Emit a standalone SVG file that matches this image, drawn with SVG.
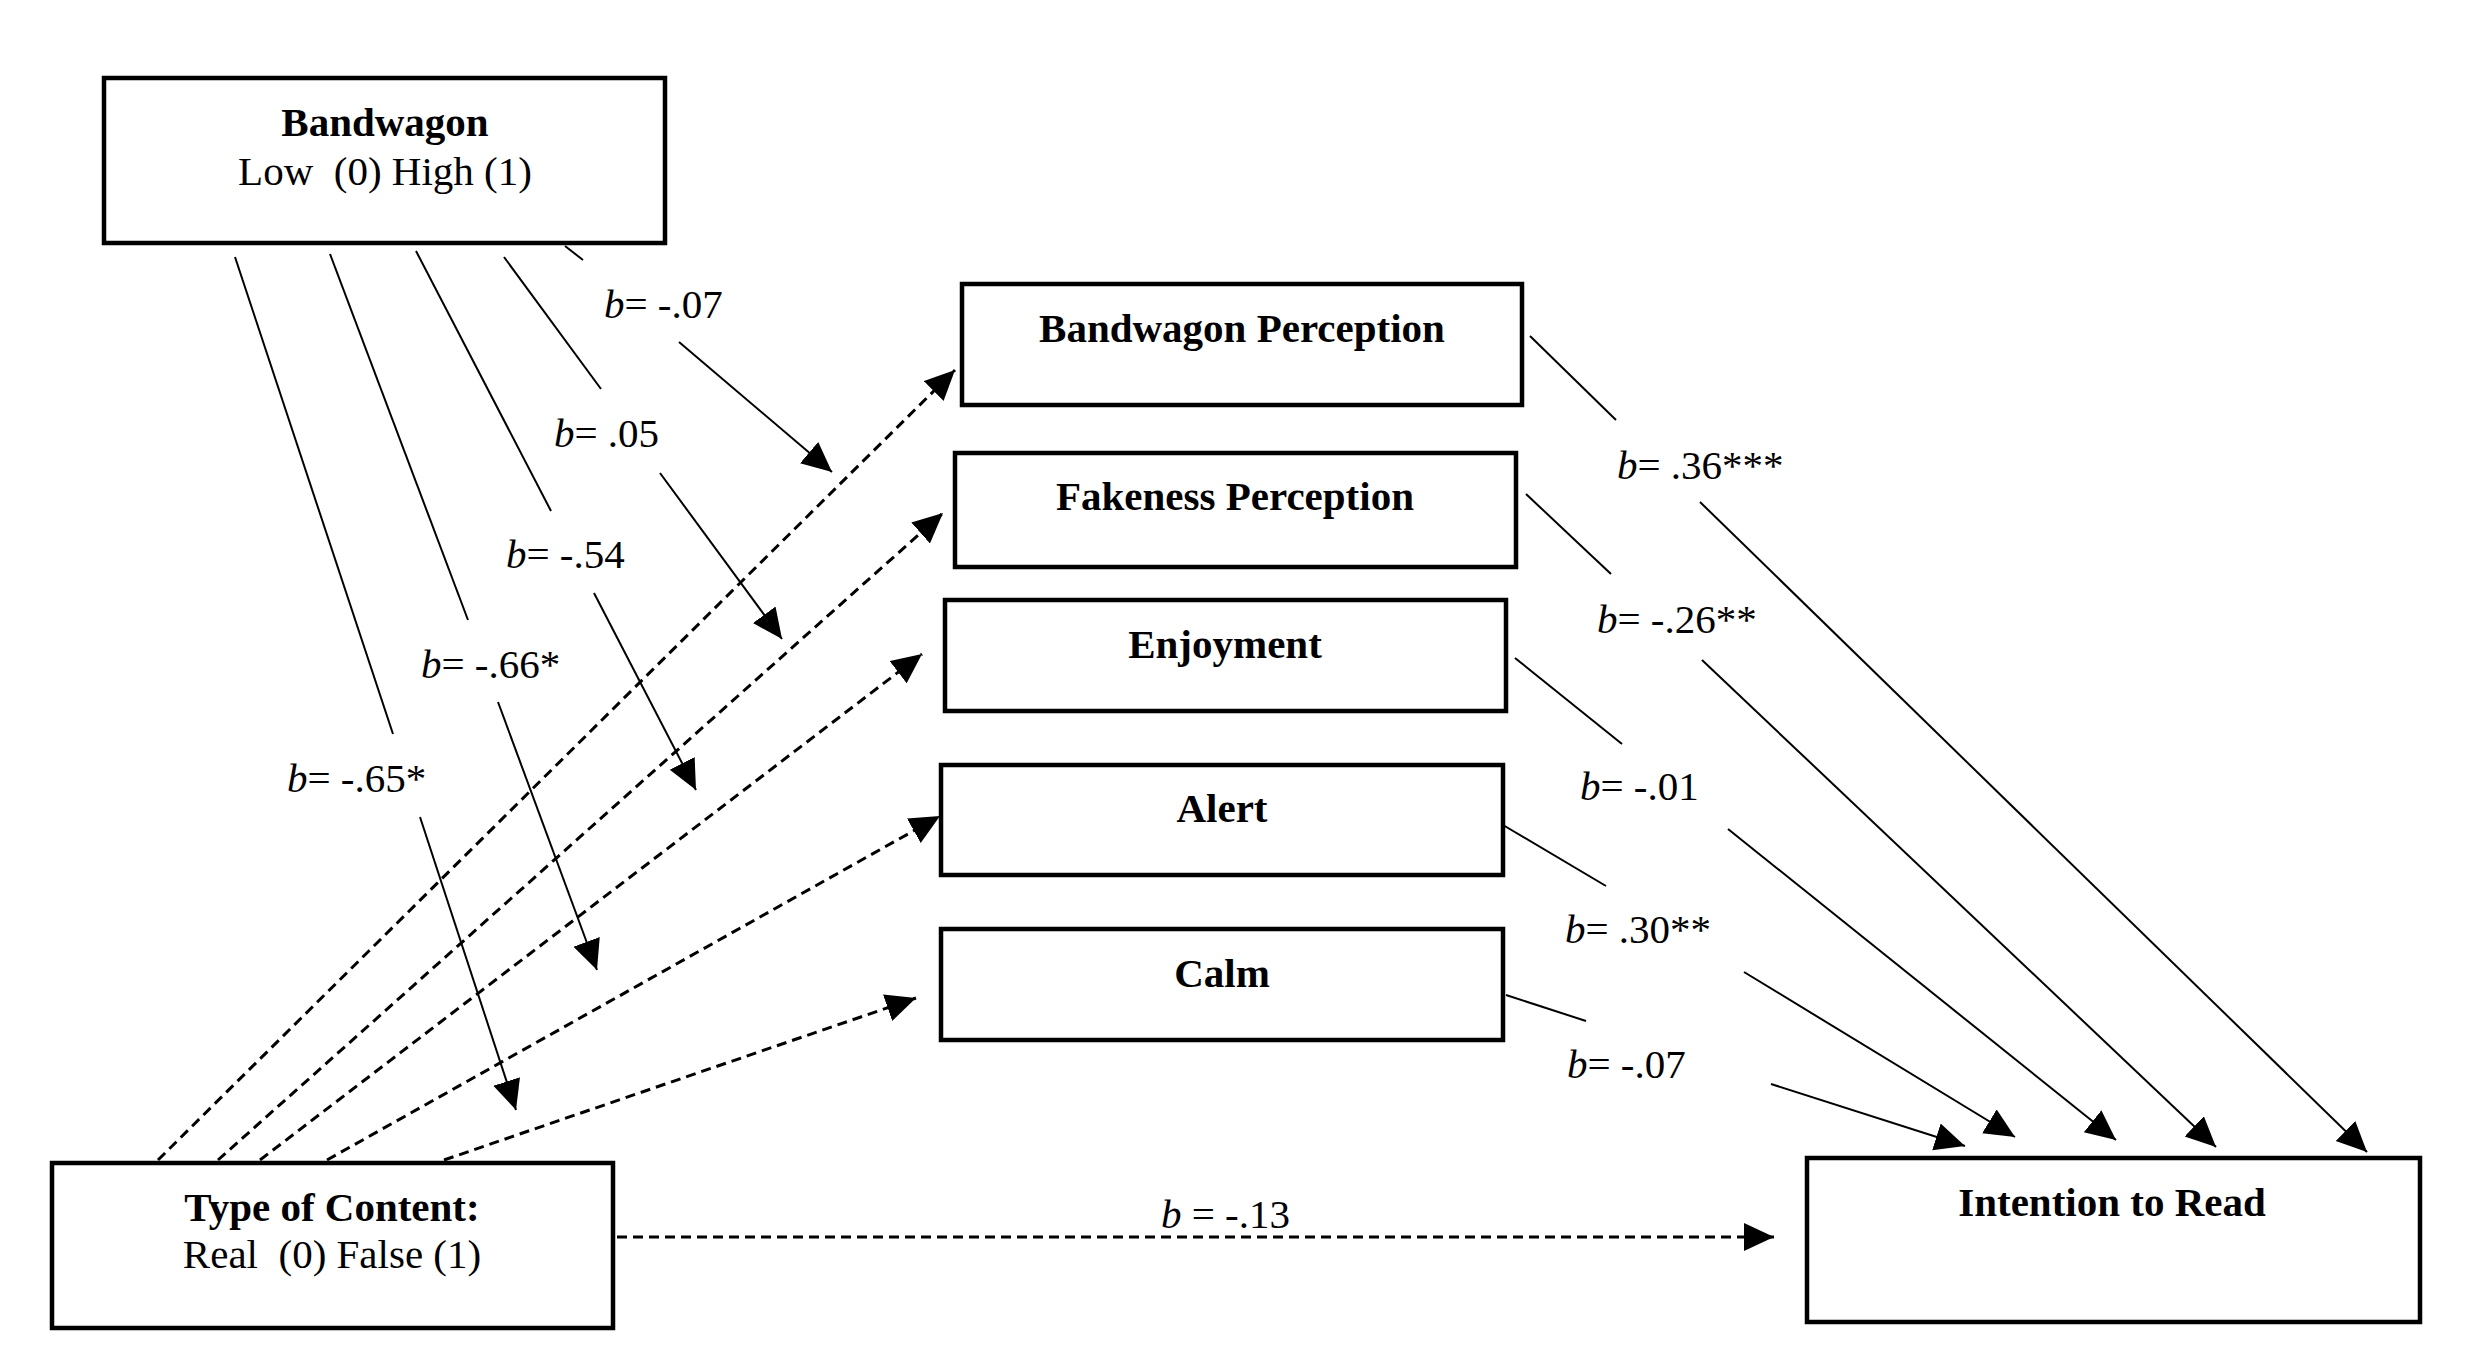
<svg xmlns="http://www.w3.org/2000/svg" width="2468" height="1358" viewBox="0 0 2468 1358">
<defs>
<marker id="ah" markerUnits="userSpaceOnUse" markerWidth="32" markerHeight="30" refX="30" refY="14" orient="auto">
<path d="M0,0 L30,14 L0,28 z" fill="#000"/>
</marker>
<style>
.box{fill:#fff;stroke:#000;stroke-width:4.5}
.t{font-family:"Liberation Serif","Times New Roman",serif;font-size:41px;fill:#000}
.bt{font-family:"Liberation Serif","Times New Roman",serif;font-size:41px;font-weight:bold;fill:#000}
.lbl{font-family:"Liberation Serif","Times New Roman",serif;font-size:41px;fill:#000}
.i{font-style:italic}
.sl{stroke:#000;stroke-width:2;fill:none}
.dl{stroke:#000;stroke-width:3;fill:none;stroke-dasharray:10 6}
</style>
</defs>
<rect width="2468" height="1358" fill="#fff"/>

<g id="connectors">
<!-- Bandwagon moderation lines -->
<line class="sl" x1="565" y1="246" x2="583" y2="260"/>
<line class="sl" x1="679" y1="342" x2="832" y2="472" marker-end="url(#ah)"/>
<line class="sl" x1="504" y1="257" x2="601" y2="389"/>
<line class="sl" x1="660" y1="473" x2="782" y2="639" marker-end="url(#ah)"/>
<line class="sl" x1="416" y1="251" x2="551" y2="511"/>
<line class="sl" x1="594" y1="593" x2="696" y2="790" marker-end="url(#ah)"/>
<line class="sl" x1="330" y1="254" x2="468" y2="620"/>
<line class="sl" x1="498" y1="702" x2="597" y2="970" marker-end="url(#ah)"/>
<line class="sl" x1="235" y1="257" x2="393" y2="734"/>
<line class="sl" x1="420" y1="817" x2="516" y2="1110" marker-end="url(#ah)"/>
<!-- Type of content dashed lines -->
<line class="dl" x1="158" y1="1160" x2="955" y2="370" marker-end="url(#ah)"/>
<line class="dl" x1="218" y1="1160" x2="943" y2="513" marker-end="url(#ah)"/>
<line class="dl" x1="260" y1="1160" x2="922" y2="654" marker-end="url(#ah)"/>
<line class="dl" x1="327" y1="1160" x2="940" y2="816" marker-end="url(#ah)"/>
<line class="dl" x1="444" y1="1160" x2="916" y2="998" marker-end="url(#ah)"/>
<line class="dl" x1="617" y1="1237" x2="1774" y2="1237" marker-end="url(#ah)"/>
<!-- Mediators to Intention -->
<line class="sl" x1="1530" y1="336" x2="1616" y2="420"/>
<line class="sl" x1="1700" y1="502" x2="2367" y2="1152" marker-end="url(#ah)"/>
<line class="sl" x1="1526" y1="494" x2="1611" y2="574"/>
<line class="sl" x1="1702" y1="660" x2="2216" y2="1147" marker-end="url(#ah)"/>
<line class="sl" x1="1515" y1="658" x2="1622" y2="744"/>
<line class="sl" x1="1728" y1="829" x2="2116" y2="1140" marker-end="url(#ah)"/>
<line class="sl" x1="1503" y1="825" x2="1606" y2="886"/>
<line class="sl" x1="1744" y1="972" x2="2015" y2="1137" marker-end="url(#ah)"/>
<line class="sl" x1="1506" y1="995" x2="1586" y2="1021"/>
<line class="sl" x1="1771" y1="1084" x2="1965" y2="1146" marker-end="url(#ah)"/>
<!-- labels -->
<text class="lbl" x="604" y="318"><tspan class="i">b</tspan>= -.07</text>
<text class="lbl" x="554" y="447"><tspan class="i">b</tspan>= .05</text>
<text class="lbl" x="506" y="568"><tspan class="i">b</tspan>= -.54</text>
<text class="lbl" x="421" y="678"><tspan class="i">b</tspan>= -.66*</text>
<text class="lbl" x="287" y="792"><tspan class="i">b</tspan>= -.65*</text>
<text class="lbl" x="1617" y="479"><tspan class="i">b</tspan>= .36***</text>
<text class="lbl" x="1597" y="633"><tspan class="i">b</tspan>= -.26**</text>
<text class="lbl" x="1580" y="800"><tspan class="i">b</tspan>= -.01</text>
<text class="lbl" x="1565" y="943"><tspan class="i">b</tspan>= .30**</text>
<text class="lbl" x="1567" y="1078"><tspan class="i">b</tspan>= -.07</text>
<text class="lbl" x="1161" y="1228"><tspan class="i">b</tspan> = -.13</text>
</g>

<g id="bandwagon">
<rect class="box" x="104" y="78" width="561" height="165"/>
<text class="bt" x="385" y="136" text-anchor="middle">Bandwagon</text>
<text class="t" x="385" y="185" text-anchor="middle" xml:space="preserve">Low  (0) High (1)</text>
</g>
<g id="bandwagon-perception">
<rect class="box" x="962" y="284" width="560" height="121"/>
<text class="bt" x="1242" y="342" text-anchor="middle">Bandwagon Perception</text>
</g>
<g id="fakeness-perception">
<rect class="box" x="955" y="453" width="561" height="114"/>
<text class="bt" x="1235" y="510" text-anchor="middle">Fakeness Perception</text>
</g>
<g id="enjoyment">
<rect class="box" x="945" y="600" width="561" height="111"/>
<text class="bt" x="1225" y="658" text-anchor="middle">Enjoyment</text>
</g>
<g id="alert">
<rect class="box" x="941" y="765" width="562" height="110"/>
<text class="bt" x="1222" y="822" text-anchor="middle">Alert</text>
</g>
<g id="calm">
<rect class="box" x="941" y="929" width="562" height="111"/>
<text class="bt" x="1222" y="987" text-anchor="middle">Calm</text>
</g>
<g id="type-of-content">
<rect class="box" x="52" y="1163" width="561" height="165"/>
<text class="bt" x="332" y="1221" text-anchor="middle">Type of Content:</text>
<text class="t" x="332" y="1268" text-anchor="middle" xml:space="preserve">Real  (0) False (1)</text>
</g>
<g id="intention-to-read">
<rect class="box" x="1807" y="1158" width="613" height="164"/>
<text class="bt" x="2112" y="1216" text-anchor="middle">Intention to Read</text>
</g>
</svg>
